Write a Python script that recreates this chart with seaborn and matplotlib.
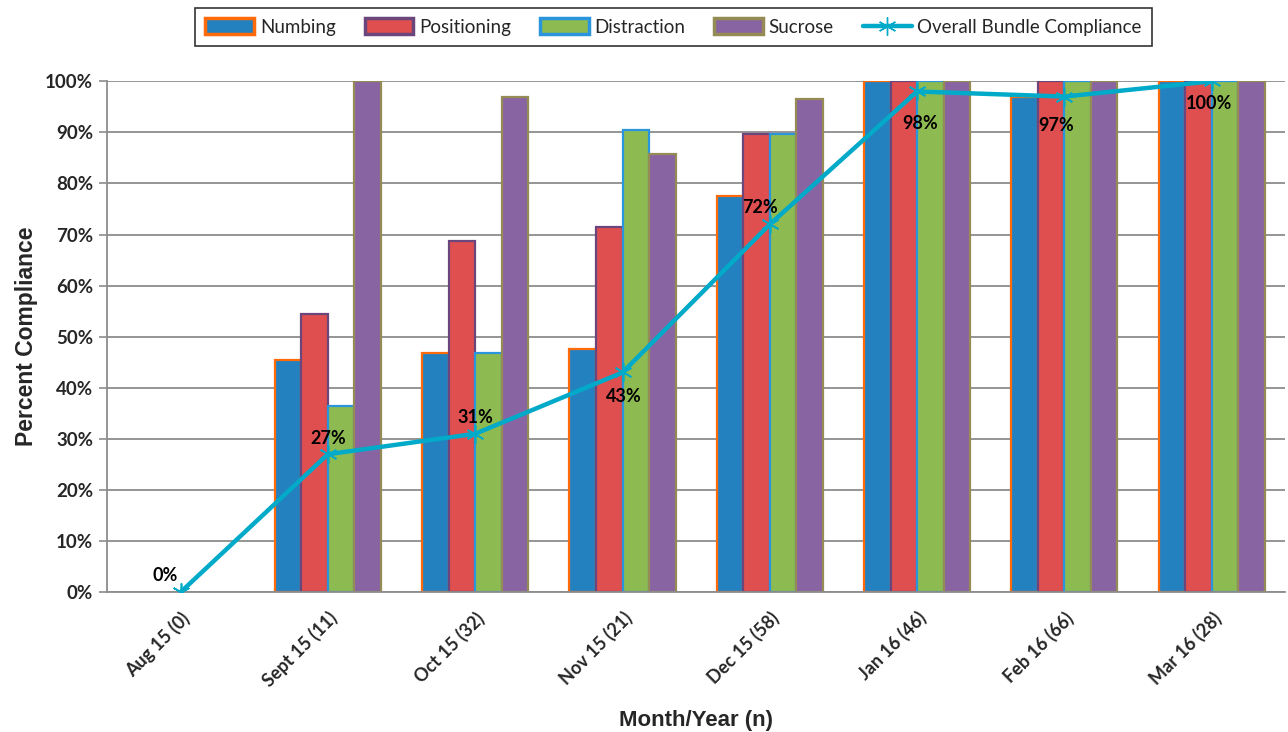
import numpy as np
import pandas as pd
import matplotlib
matplotlib.use("Agg")
import matplotlib.pyplot as plt
import seaborn as sns
from matplotlib.patches import Patch
from matplotlib.lines import Line2D

months = ["Aug 15 (0)", "Sept 15 (11)", "Oct 15 (32)", "Nov 15 (21)",
          "Dec 15 (58)", "Jan 16 (46)", "Feb 16 (66)", "Mar 16 (28)"]
numbing = [0, 45.5, 46.9, 47.6, 77.6, 100, 97.0, 100]
positioning = [0, 54.5, 68.8, 71.4, 89.7, 100, 100, 100]
distraction = [0, 36.4, 46.9, 90.5, 89.7, 100, 100, 100]
sucrose = [0, 100, 96.9, 85.7, 96.6, 100, 100, 100]
overall = [0, 27, 31, 43, 72, 98, 97, 100]
overall_labels = ["0%", "27%", "31%", "43%", "72%", "98%", "97%", "100%"]

measures = ["Numbing", "Positioning", "Distraction", "Sucrose"]
fills = ["#2481C0", "#DF4F4F", "#8DBB51", "#8964A2"]
edges = ["#FF6A0A", "#6A467C", "#2A95DC", "#958B55"]
line_color = "#00AAC8"

df = pd.DataFrame({
    "month": months * 4,
    "measure": np.repeat(measures, len(months)),
    "value": numbing + positioning + distraction + sucrose,
})

sns.set_style("white")
plt.rcParams['font.family'] = ['Lato', 'DejaVu Sans']

fig = plt.figure(figsize=(12.88, 7.32), dpi=100)
ax = fig.add_axes([0.083, 0.191, 0.915, 0.698])

sns.barplot(data=df, x="month", y="value", hue="measure", order=months,
            hue_order=measures, palette=fills, width=0.72, gap=0,
            saturation=1, legend=False, ax=ax, zorder=2)
for cont, ec in zip(ax.containers, edges):
    for bar in cont:
        if bar.get_height() == 0:
            bar.set_visible(False)
        bar.set_edgecolor(ec)
        bar.set_linewidth(1.6)

sns.lineplot(x=np.arange(len(months)), y=overall, color=line_color,
             linewidth=3.2, marker=(6, 2, 0), markersize=13,
             markeredgecolor=line_color, markeredgewidth=1.2, ax=ax, zorder=4)

# data labels for the overall line (offsets in points)
offsets = [(-11, 12), (0, 11), (0, 12), (1, -17), (-7, 12), (2, -23), (-6, -21), (-2, -16)]
for i, (v, lab) in enumerate(zip(overall, overall_labels)):
    dx, dy = offsets[i]
    ax.annotate(lab, (i, v), xytext=(dx, dy), textcoords="offset points",
                ha="center", va="center", fontsize=13, fontweight="bold",
                color="black", zorder=5)

ax.set_xlim(-0.5, len(months) - 0.5)
ax.set_ylim(0, 100)
ax.set_yticks(np.arange(0, 101, 10))
ax.set_yticklabels([f"{t}%" for t in range(0, 101, 10)], fontsize=13.5,
                   fontweight="bold")
ax.yaxis.grid(True, color="#8C8C8C", linewidth=1.3, zorder=0)
ax.set_axisbelow(True)

ax.set_xticks(np.arange(len(months)))
ax.set_xticklabels(months, rotation=45, ha="right", rotation_mode="anchor",
                   fontsize=13, fontweight="bold")
ax.set_xticks(np.arange(-0.5, len(months), 1), minor=True)
ax.tick_params(axis="x", which="major", length=0, pad=12)
ax.tick_params(axis="x", which="minor", length=6, color="#8C8C8C", width=1.2)
ax.tick_params(axis="y", length=6, color="#8C8C8C", width=1.2, left=True, pad=4)

for s in ["top", "right"]:
    ax.spines[s].set_visible(False)
for s in ["left", "bottom"]:
    ax.spines[s].set_color("#8C8C8C")
    ax.spines[s].set_linewidth(1.3)

ax.set_xlabel("Month/Year (n)", fontsize=16, fontweight="bold",
              family="Liberation Sans", labelpad=14)
ax.set_ylabel("Percent Compliance", fontsize=16.5, fontweight="bold",
              family="Liberation Sans", labelpad=5)

handles = [Patch(facecolor=f, edgecolor=e, linewidth=2.5) for f, e in zip(fills, edges)]
handles.append(Line2D([0], [0], color=line_color, linewidth=3.2, marker=(6, 2, 0),
                      markersize=13, markeredgecolor=line_color))
leg = fig.legend(handles, measures + ["Overall Bundle Compliance"], ncol=5,
                 loc="center", bbox_to_anchor=(0.523, 0.963), frameon=True,
                 fancybox=False, edgecolor="black", fontsize=13.5,
                 handlelength=2.6, handleheight=0.9, columnspacing=1.55,
                 handletextpad=0.3, borderpad=0.55)
leg.get_frame().set_linewidth(1.2)

fig.savefig("out.png", dpi=100)
